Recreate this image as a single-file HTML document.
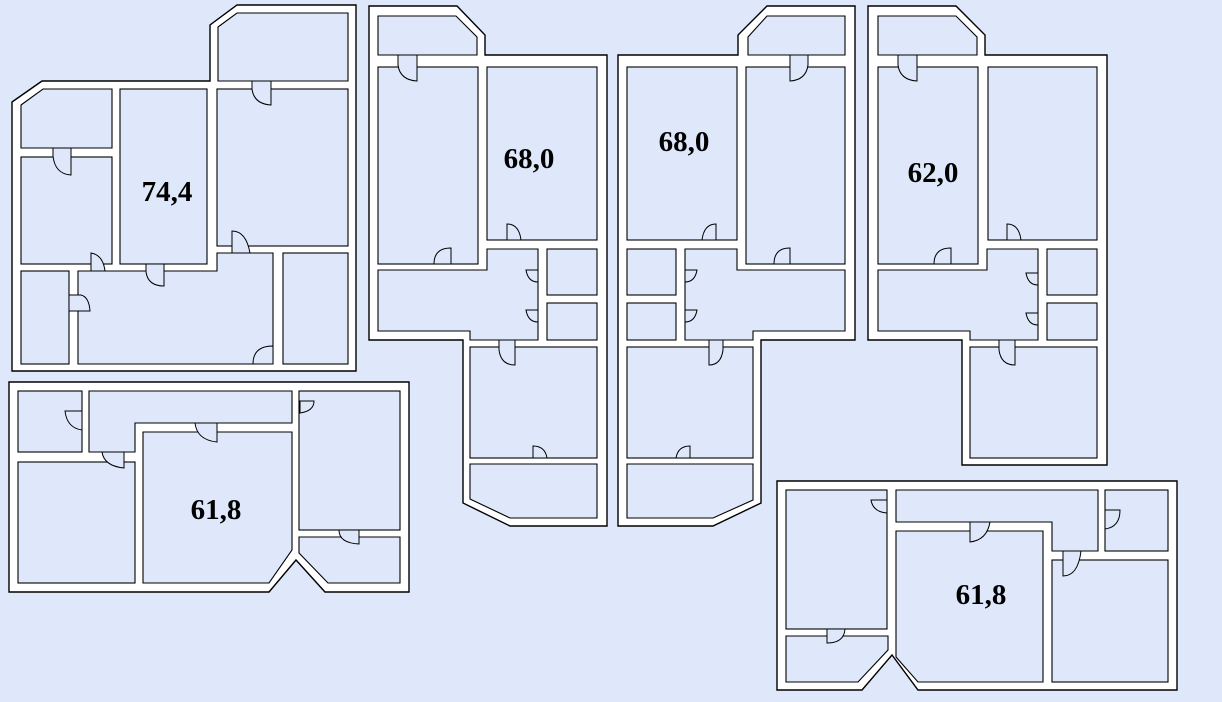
<!DOCTYPE html>
<html><head><meta charset="utf-8"><style>
html,body{margin:0;padding:0;background:#dfe8fa;}
svg{display:block;}
text{font-family:"Liberation Serif",serif;font-weight:bold;font-size:29px;fill:#000;text-anchor:middle;}
</style></head><body>
<svg width="1222" height="702" viewBox="0 0 1222 702" xmlns="http://www.w3.org/2000/svg">
<rect width="1222" height="702" fill="#dfe8fa"/>
<g stroke="#000" stroke-width="1.4" fill="#fff">
<polygon points="12,102 42,81 210,81 210,25 237,5 356,5 356,371 12,371"/>
<polygon points="369,6 457,6 485,35 485,55 607,55 607,526 510,526 463,503 463,340 369,340"/>
<polygon points="618,55 738,55 738,35 767,6 855,6 855,340 761,340 761,503 713,526 618,526"/>
<polygon points="868,6 956,6 985,35 985,55 1107,55 1107,465 962,465 962,340 868,340"/>
<polygon points="9,382 409,382 409,592 325,592 296,560 269,592 9,592"/>
<polygon points="777,481 1177,481 1177,690 918,690 892,655 862,690 777,690"/>
</g>
<g stroke="#000" stroke-width="1.1" fill="#dfe8fa">
<polygon points="21,105 43,89 112,89 112,148 21,148"/>
<rect x="21" y="157" width="91" height="107"/>
<rect x="120" y="89" width="87" height="175"/>
<polygon points="218,27 237,13 348,13 348,81 218,81"/>
<rect x="217" y="89" width="131" height="157"/>
<polygon points="78,271 217,271 217,253 273,253 273,364 78,364"/>
<rect x="21" y="271" width="48" height="93"/>
<rect x="283" y="253" width="65" height="111"/>
<polygon points="378,16 456,16 477,37 477,55 378,55"/>
<rect x="378" y="67" width="100" height="197"/>
<rect x="487" y="67" width="110" height="173"/>
<polygon points="378,270 487,270 487,249 538,249 538,340 470,340 470,331 378,331"/>
<rect x="547" y="249" width="50" height="46"/>
<rect x="547" y="303" width="50" height="37"/>
<rect x="470" y="347" width="127" height="111"/>
<polygon points="470,464 597,464 597,518 510,518 470,499"/>
<polygon points="748,37 767,16 845,16 845,55 748,55"/>
<rect x="627" y="67" width="110" height="173"/>
<rect x="746" y="67" width="99" height="197"/>
<polygon points="685,249 737,249 737,270 845,270 845,331 753,331 753,340 685,340"/>
<rect x="627" y="249" width="49" height="46"/>
<rect x="627" y="303" width="49" height="37"/>
<rect x="627" y="347" width="126" height="111"/>
<polygon points="627,464 753,464 753,500 713,518 627,518"/>
<polygon points="878,16 956,16 977,37 977,55 878,55"/>
<rect x="878" y="67" width="100" height="197"/>
<rect x="988" y="67" width="109" height="173"/>
<polygon points="878,270 987,270 987,249 1038,249 1038,340 970,340 970,331 878,331"/>
<rect x="1047" y="249" width="50" height="46"/>
<rect x="1047" y="303" width="50" height="37"/>
<rect x="970" y="347" width="127" height="111"/>
<rect x="18" y="391" width="64" height="61"/>
<rect x="18" y="462" width="117" height="121"/>
<polygon points="89,391 292,391 292,423 135,423 135,452 89,452"/>
<polygon points="143,432 292,432 292,550 269,583 143,583"/>
<rect x="299" y="391" width="101" height="139"/>
<polygon points="299,537 400,537 400,583 328,583 299,553"/>
<rect x="786" y="490" width="101" height="139"/>
<polygon points="786,636 888,636 888,650 858,682 786,682"/>
<polygon points="896,490 1098,490 1098,551 1052,551 1052,522 896,522"/>
<polygon points="896,531 1043,531 1043,682 918,682 896,657"/>
<rect x="1105" y="490" width="63" height="61"/>
<rect x="1052" y="560" width="116" height="122"/>
</g>
<g stroke="#000" stroke-width="1" fill="#dfe8fa">
<path d="M252,81 v8 q2,15 19,16 v-24 z"/>
<path d="M53,148 v8 q2,18 18,19 v-27 z"/>
<path d="M146,264 v8 q2,14 18,14 v-22 z"/>
<path d="M232,253 v-22 q14,0 18,22 z"/>
<path d="M91,271 v-18 q12,2 14,18 z"/>
<path d="M69,295 h12 q8,2 9,16 h-21 z"/>
<path d="M273,346 q-20,0 -20,18 h20 z"/>
<path d="M398,55 v10 q2,15 19,16 v-26 z"/>
<path d="M434,264 q0,-16 17,-16 v16 z"/>
<path d="M507,240 v-16 q12,0 14,16 z"/>
<path d="M538,270 h-12 q2,12 12,12 z"/>
<path d="M538,310 h-12 q2,12 12,12 z"/>
<path d="M499,340 v10 q2,15 16,15 v-25 z"/>
<path d="M533,458 v-12 q12,0 14,12 z"/>
<path d="M808,55 v10 q-2,15 -18,16 v-26 z"/>
<path d="M774,264 q0,-16 16,-16 v16 z"/>
<path d="M716,240 v-16 q-12,0 -14,16 z"/>
<path d="M685,270 h12 q-2,12 -12,12 z"/>
<path d="M685,310 h12 q-2,12 -12,12 z"/>
<path d="M723,340 v10 q-2,15 -14,15 v-25 z"/>
<path d="M690,458 v-12 q-12,0 -14,12 z"/>
<path d="M898,55 v10 q2,15 19,16 v-26 z"/>
<path d="M934,264 q0,-16 17,-16 v16 z"/>
<path d="M1007,240 v-16 q12,0 14,16 z"/>
<path d="M1038,273 h-12 q2,12 12,12 z"/>
<path d="M1038,313 h-12 q2,12 12,12 z"/>
<path d="M999,340 v10 q2,15 16,15 v-25 z"/>
<path d="M65,411 q2,17 17,19 v-19 z"/>
<path d="M102,452 q2,14 22,16 v-16 z"/>
<path d="M195,423 q2,17 22,19 v-19 z"/>
<path d="M300,401 h14 q0,10 -14,12 z"/>
<path d="M339,530 q0,13 20,14 v-14 z"/>
<path d="M871,500 q2,12 16,13 v-13 z"/>
<path d="M970,522 v20 q17,-2 20,-20 z"/>
<path d="M1105,510 h15 q0,17 -15,19 z"/>
<path d="M1063,551 v25 q15,0 18,-25 z"/>
<path d="M827,629 v14 q17,0 18,-14 z"/>
</g>
<text x="167" y="201">74,4</text>
<text x="529" y="168">68,0</text>
<text x="684" y="151">68,0</text>
<text x="933" y="182">62,0</text>
<text x="216" y="519">61,8</text>
<text x="981" y="604">61,8</text>
</svg>
</body></html>
